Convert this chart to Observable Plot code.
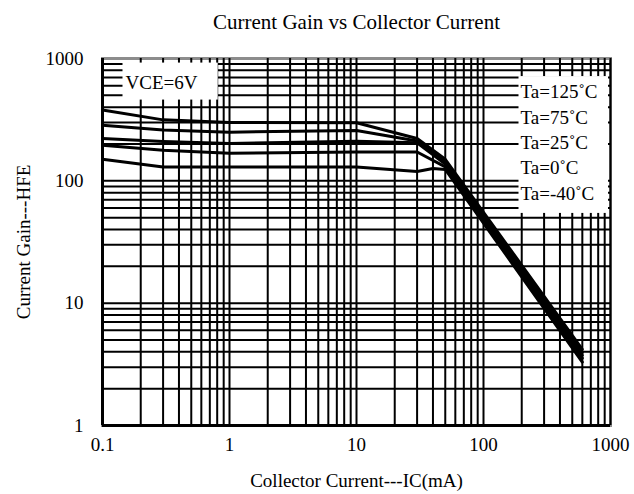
<!DOCTYPE html>
<html><head><meta charset="utf-8">
<script src="https://cdn.jsdelivr.net/npm/d3@7"></script>
<script src="https://cdn.jsdelivr.net/npm/@observablehq/plot@0.6"></script>
<style>body{margin:0;background:#fff}</style>
</head><body><div id="chart"></div>
<script>
// ---- data ----
const titleText = "Current Gain vs Collector Current";
const xLabelText = "Collector Current---IC(mA)";
const yLabelText = "Current Gain---HFE";
const conditionText = "VCE=6V";
const seriesNames = ["Ta=125˚C", "Ta=75˚C", "Ta=25˚C", "Ta=0˚C", "Ta=-40˚C"];
const icMain = [0.1, 0.3, 1, 10, 30, 50, 600];
const icCold = [0.1, 0.3, 1, 10, 30, 40, 50, 600];
const hfe125 = [380, 315, 300, 298, 222, 150, 4.2];
const hfe75  = [285, 260, 250, 258, 212, 143, 3.95];
const hfe25  = [222, 210, 202, 211, 205, 137, 3.75];
const hfe0   = [195, 178, 168, 172, 172, 130, 3.55];
const hfeM40 = [150, 130, 130, 130, 119, 126, 124, 3.3];
const xTicks = [0.1, 1, 10, 100, 1000];
const xTickLabels = ["0.1", "1", "10", "100", "1000"];
const yTicks = [1, 10, 100, 1000];
const yTickLabels = ["1", "10", "100", "1000"];

// ---- build ----
const seriesX = [icMain, icMain, icMain, icMain, icCold];
const seriesY = [hfe125, hfe75, hfe25, hfe0, hfeM40];
const rows = [];
seriesNames.forEach((name, s) => seriesX[s].forEach((ic, i) => rows.push({name, ic, hfe: seriesY[s][i]})));

const decadeGrid = (lo, hi) => {
  const out = [];
  for (let d = lo; d < hi * 0.999; d *= 10) for (let k = 1; k <= 9; k++) out.push(+(k * d).toPrecision(3));
  return out;
};
const gridX = decadeGrid(0.1, 1000).concat([1000]);
const gridY = decadeGrid(1, 1000);

const font = "'Liberation Serif', 'Times New Roman', 'DejaVu Serif', serif";
const xFmt = d => xTickLabels[xTicks.findIndex(t => Math.abs(t - d) < 1e-9)];
const yFmt = d => yTickLabels[yTicks.findIndex(t => Math.abs(t - d) < 1e-9)];

const chart = Plot.plot({
  width: 634, height: 494,
  marginLeft: 102, marginRight: 24, marginTop: 58, marginBottom: 69,
  style: {fontFamily: font, fontSize: "19px", background: "white", color: "black", overflow: "visible"},
  x: {type: "log", domain: [0.1, 1000], axis: null},
  y: {type: "log", domain: [1, 1000], axis: null},
  marks: [
    Plot.frame({stroke: "#8c8c8c", strokeWidth: 3}),
    Plot.ruleY(gridY, {stroke: "black", strokeWidth: 2}),
    Plot.ruleX(gridX, {stroke: "black", strokeWidth: 2}),
    Plot.ruleX([xTicks[0]], {stroke: "black", strokeWidth: 3}),
    Plot.ruleY([yTicks[0]], {stroke: "black", strokeWidth: 3}),
    Plot.line(rows, {x: "ic", y: "hfe", z: "name", stroke: "black", strokeWidth: 3, strokeLinejoin: "round"}),
    Plot.text(xTicks, {x: d => d, text: xFmt, frameAnchor: "bottom", lineAnchor: "top", dy: 12, fontSize: 19}),
    Plot.text(yTicks, {y: d => d, text: yFmt, frameAnchor: "left", textAnchor: "end", dx: -19, fontSize: 19}),
    Plot.text([titleText], {text: d => d, frameAnchor: "top", lineAnchor: "bottom", dy: -30, fontSize: 21}),
    Plot.text([xLabelText], {text: d => d, frameAnchor: "bottom", lineAnchor: "bottom", dy: 61, fontSize: 19}),
    Plot.text([yLabelText], {text: d => d, frameAnchor: "left", textAnchor: "middle", lineAnchor: "middle", rotate: -90, dx: -79, fontSize: 19}),
    Plot.text([conditionText], {text: d => d, frameAnchor: "top-left", textAnchor: "start", lineAnchor: "middle", dx: 23, dy: 24, fontSize: 19, ariaDescription: "condition"}),
    Plot.text([seriesNames.join("\n")], {text: d => d, frameAnchor: "top-right", textAnchor: "start", lineAnchor: "top", lineHeight: 1.34, dx: -90, dy: 21.5, fontSize: 19, ariaDescription: "serieslegend"})
  ]
});
document.getElementById("chart").appendChild(chart);

// white backgrounds behind the in-plot annotations
function whiteBox(label, padL, padR, padT, padB, rightEdge) {
  const g = chart.querySelector(`g[aria-description="${label}"]`);
  if (!g) return;
  const s = chart.getBoundingClientRect();
  const b = g.getBoundingClientRect();
  const x0 = b.left - s.left - padL, y0 = b.top - s.top - padT;
  const x1 = rightEdge != null ? rightEdge : b.right - s.left + padR;
  const y1 = b.bottom - s.top + padB;
  const r = document.createElementNS("http://www.w3.org/2000/svg", "rect");
  r.setAttribute("x", x0); r.setAttribute("y", y0);
  r.setAttribute("width", x1 - x0); r.setAttribute("height", y1 - y0);
  r.setAttribute("fill", "white");
  g.parentNode.insertBefore(r, g);
}
whiteBox("condition", 3, 20, 9, 7, null);
whiteBox("serieslegend", 2, 0, 5, 9, 608);
</script></body></html>
